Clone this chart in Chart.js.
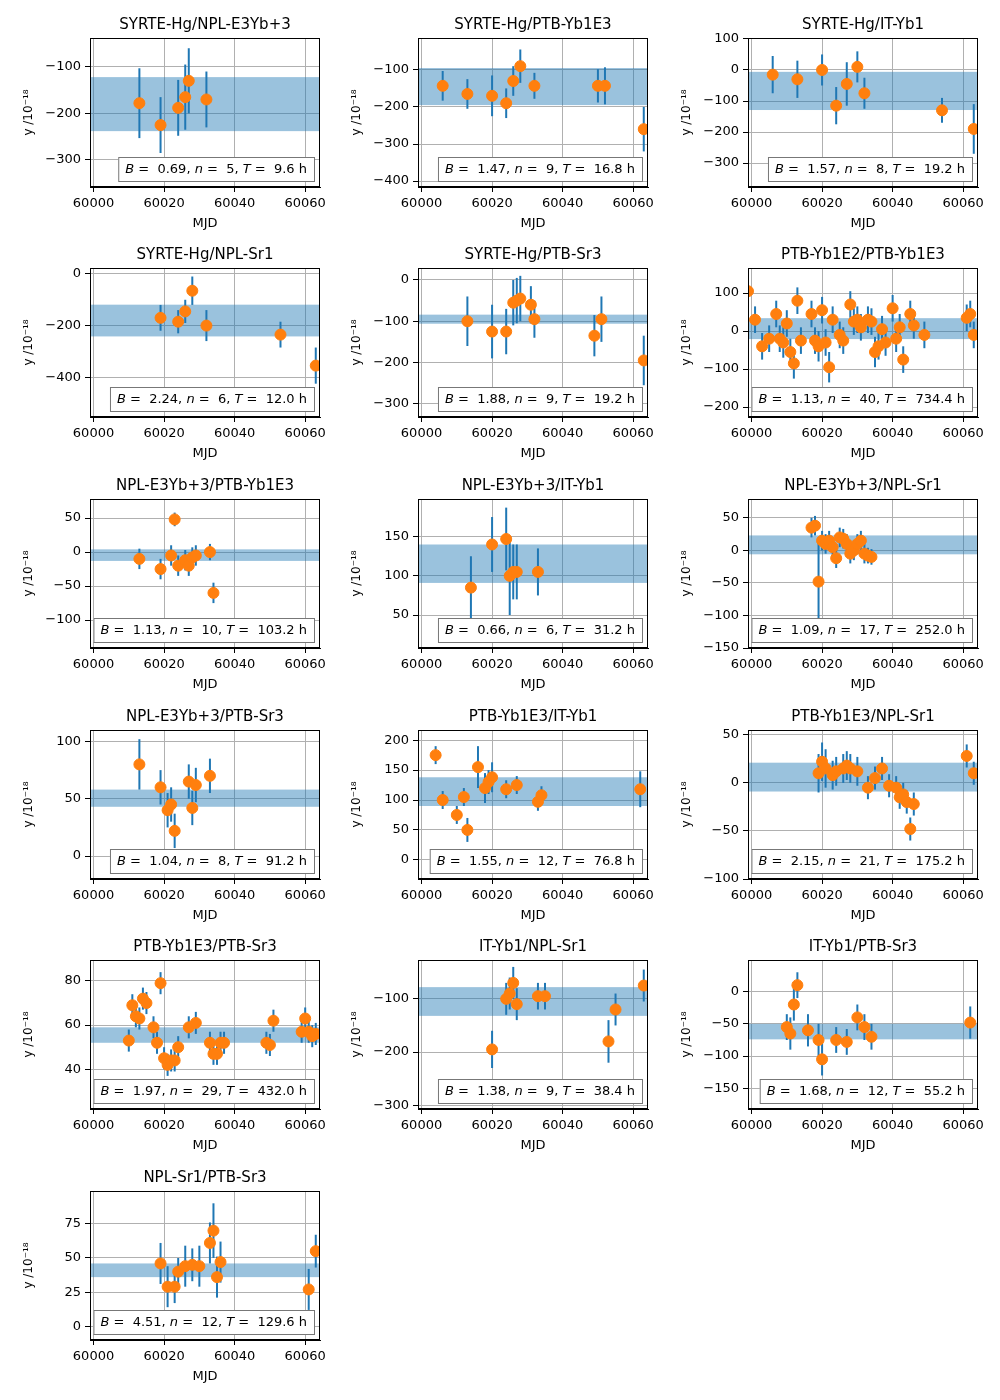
<!DOCTYPE html>
<html><head><meta charset="utf-8">
<script src="https://cdn.jsdelivr.net/npm/chart.js@4.4.0/dist/chart.umd.min.js"></script>
<style>body{margin:0;background:#fff;width:1000px;height:1400px;position:relative}canvas{position:absolute}</style>
</head><body>
<script>
const titles=["SYRTE-Hg/NPL-E3Yb+3","SYRTE-Hg/PTB-Yb1E3","SYRTE-Hg/IT-Yb1","SYRTE-Hg/NPL-Sr1","SYRTE-Hg/PTB-Sr3","PTB-Yb1E2/PTB-Yb1E3","NPL-E3Yb+3/PTB-Yb1E3","NPL-E3Yb+3/IT-Yb1","NPL-E3Yb+3/NPL-Sr1","NPL-E3Yb+3/PTB-Sr3","PTB-Yb1E3/IT-Yb1","PTB-Yb1E3/NPL-Sr1","PTB-Yb1E3/PTB-Sr3","IT-Yb1/NPL-Sr1","IT-Yb1/PTB-Sr3","NPL-Sr1/PTB-Sr3"];
const statB=["0.69","1.47","1.57","2.24","1.88","1.13","1.13","0.66","1.09","1.04","1.55","2.15","1.97","1.38","1.68","4.51"];
const statN=[5,9,8,6,9,40,10,6,17,8,12,21,29,9,12,12];
const statT=["9.6","16.8","19.2","12.0","19.2","734.4","103.2","31.2","252.0","91.2","76.8","175.2","432.0","38.4","55.2","129.6"];
const bandLo=[-238,-195,-129,-242,-106,-21,-13,91,-6,43,90,-9,52,-132,-74,36];
const bandHi=[-122,-95,-6,-119,-84,34,4,140,23,58,138,21,59,-78,-50,46];
const yMin=[-358,-416,-377,-554,-332,-226,-141,8,-150,-20,-32,-100,22,-307,-182,-10];
const yMax=[-38,-14,103,23,29,166,78,198,79,110,217,55,89.5,-27,49,99];
const yTicks=[[-300,-200,-100],[-400,-300,-200,-100],[-300,-200,-100,0,100],[-400,-200,0],[-300,-200,-100,0],[-200,-100,0,100],[-100,-50,0,50],[50,100,150],[-150,-100,-50,0,50],[0,50,100],[0,50,100,150,200],[-100,-50,0,50],[40,60,80],[-300,-200,-100],[-150,-100,-50,0],[0,25,50,75]];
const xTicks=[60000,60020,60040,60060];

const p1X=[60013,60019,60024,60026,60027,60032], p1Y=[-178,-225,-188,-165,-130,-170], p1E=[75,60,60,70,70,60];
const p2X=[60006,60013,60020,60024,60026,60028,60032,60050,60052,60063], p2Y=[-143,-165,-170,-190,-130,-90,-143,-143,-143,-260], p2E=[40,40,55,40,40,45,35,45,50,60];
const p3X=[60006,60013,60020,60024,60027,60030,60032,60054,60063], p3Y=[-15,-30,0,-115,-45,10,-75,-130,-190], p3E=[60,60,50,60,70,50,50,40,80];
const p4X=[60019,60024,60026,60028,60032,60053,60063], p4Y=[-170,-185,-145,-65,-200,-235,-355], p4E=[50,45,45,55,60,50,70];
const p5X=[60013,60020,60024,60026,60027,60028,60031,60032,60049,60051,60063], p5Y=[-100,-125,-125,-55,-50,-45,-60,-95,-135,-95,-195], p5E=[60,65,55,55,55,55,45,45,50,55,60];
const p6X=[59999,60001,60003,60005,60007,60008,60009,60010,60011,60012,60013,60014,60017,60018,60019,60020,60021,60022,60023,60025,60026,60028,60029,60030,60031,60033,60034,60035,60036,60037,60038,60040,60041,60042,60043,60045,60046,60049,60061,60062,60063];
const p6Y=[105,30,-40,-20,45,-20,-30,20,-55,-85,80,-25,45,-25,-40,55,-30,-95,30,-10,-25,70,25,30,10,30,25,-55,-40,5,-30,60,-20,10,-75,45,15,-10,35,45,-10];
const p6E=[40,35,35,35,35,35,40,35,35,40,35,35,35,35,40,35,35,40,35,35,35,35,35,35,35,35,35,40,35,35,35,35,35,35,35,35,35,35,35,35,35];
const p7X=[60013,60019,60022,60023,60024,60026,60027,60028,60029,60033,60034], p7Y=[-10,-25,-5,48,-20,-12,-20,-8,-5,0,-60], p7E=[15,15,15,10,15,15,15,15,15,12,15];
const p8X=[60014,60020,60024,60025,60026,60027,60033], p8Y=[85,140,147,100,105,105,105], p8E=[40,35,40,50,35,35,30];
const p9X=[60017,60018,60019,60020,60021,60022,60023,60024,60025,60026,60027,60028,60029,60030,60031,60032,60033,60034];
const p9Y=[35,38,-48,15,10,15,5,-12,20,18,10,-5,0,10,15,-5,-8,-10];
const p9E=[15,15,60,15,15,15,15,15,15,15,15,15,15,15,15,15,12,12];
const p10X=[60013,60019,60021,60022,60023,60027,60028,60029,60033], p10Y=[80,60,40,45,22,65,42,62,70], p10E=[22,15,15,15,15,15,15,15,15];
const p11X=[60004,60006,60010,60012,60013,60016,60018,60019,60020,60024,60027,60033,60034,60062], p11Y=[175,100,75,105,50,155,120,130,138,118,125,97,108,118], p11E=[15,15,15,15,20,35,25,20,25,15,15,15,15,30];
const p12X=[60019,60020,60021,60023,60024,60026,60027,60028,60030,60033,60035,60037,60039,60041,60042,60043,60044,60045,60046,60061,60063];
const p12Y=[10,22,15,8,12,15,18,15,12,-5,5,15,-3,-5,-15,-12,-20,-48,-22,28,10];
const p12E=[20,20,20,15,15,15,15,15,15,12,12,12,12,12,12,12,12,12,12,12,12];
const p13X=[60010,60011,60012,60013,60014,60015,60017,60018,60019,60020,60021,60022,60023,60024,60027,60029,60033,60034,60035,60036,60037,60049,60050,60051,60059,60060,60061,60062,60063];
const p13Y=[53,69,64,63,72,70,59,52,79,45,42,44,44,50,59,61,52,47,47,52,52,52,51,62,57,63,57,55,56];
const p13E=[5,5,5,5,5,5,5,5,5,5,5,5,5,5,5,5,5,5,5,5,5,5,5,5,5,5,5,5,5];
const p14X=[60020,60024,60025,60026,60027,60033,60035,60053,60055,60063], p14Y=[-195,-100,-90,-70,-110,-95,-95,-180,-120,-75], p14E=[35,30,30,30,30,25,25,40,30,30];
const p15X=[60010,60011,60012,60013,60016,60019,60020,60024,60027,60030,60032,60034,60062], p15Y=[-55,-65,-20,10,-60,-75,-105,-75,-78,-40,-55,-70,-48], p15E=[20,25,25,20,25,25,25,20,20,20,20,20,25];
const p16X=[60019,60021,60023,60024,60026,60028,60030,60033,60034,60035,60036,60061,60063], p16Y=[46,29,29,40,44,45,44,61,70,36,47,27,55], p16E=[15,15,12,10,15,12,15,15,20,15,15,15,12];

const allX=[p1X,p2X,p3X,p4X,p5X,p6X,p7X,p8X,p9X,p10X,p11X,p12X,p13X,p14X,p15X,p16X];
const allY=[p1Y,p2Y,p3Y,p4Y,p5Y,p6Y,p7Y,p8Y,p9Y,p10Y,p11Y,p12Y,p13Y,p14Y,p15Y,p16Y];
const allE=[p1E,p2E,p3E,p4E,p5E,p6E,p7E,p8E,p9E,p10E,p11E,p12E,p13E,p14E,p15E,p16E];

const colLeft=[90,418,748], rowTop=[38,268,499,730,960,1191], PW=230, PH=149;
const FONT="DejaVu Sans";
Chart.defaults.font.family=FONT; Chart.defaults.color='#000';

const deco={id:'deco',
 beforeDatasetsDraw(c,a,o){const ctx=c.ctx,ca=c.chartArea,ys=c.scales.y,xs=c.scales.x,i=o.idx;
  ctx.save();ctx.beginPath();ctx.rect(ca.left,ca.top,ca.width,ca.height);ctx.clip();
  ctx.fillStyle='rgba(31,119,180,0.45)';
  const t=ys.getPixelForValue(bandHi[i]),b=ys.getPixelForValue(bandLo[i]);
  ctx.fillRect(ca.left,t,ca.width,b-t);
  ctx.strokeStyle='#1f77b4';ctx.lineWidth=2;
  allX[i].forEach((x,k)=>{const px=xs.getPixelForValue(x);ctx.beginPath();
   ctx.moveTo(px,ys.getPixelForValue(allY[i][k]-allE[i][k]));ctx.lineTo(px,ys.getPixelForValue(allY[i][k]+allE[i][k]));ctx.stroke();});
  ctx.restore();},
 afterDraw(c,a,o){const ctx=c.ctx,ca=c.chartArea,i=o.idx;ctx.save();
  ctx.fillStyle='#000';ctx.font='15px '+FONT;ctx.textAlign='center';ctx.textBaseline='bottom';
  ctx.fillText(titles[i],(ca.left+ca.right)/2,ca.top-5);
  const parts=[['B','i'],[' =  '+statB[i]+', ','n'],['n','i'],[' =  '+statN[i]+', ','n'],['T','i'],[' =  '+statT[i]+' h','n']];
  let w=0;parts.forEach(p=>{ctx.font=(p[1]=='i'?'italic ':'')+'13px '+FONT;w+=ctx.measureText(p[0]).width;});
  const bx=ca.right-6-w-14,by=ca.bottom-6-24;
  ctx.fillStyle='#fff';ctx.fillRect(bx,by,w+14,24);ctx.strokeStyle='#777';ctx.lineWidth=1;ctx.strokeRect(bx+0.5,by+0.5,w+14,24);
  ctx.fillStyle='#000';ctx.textAlign='left';ctx.textBaseline='middle';let x=bx+7;
  parts.forEach(p=>{ctx.font=(p[1]=='i'?'italic ':'')+'13px '+FONT;ctx.fillText(p[0],x,by+13);x+=ctx.measureText(p[0]).width;});
  ctx.strokeStyle='#000';ctx.lineWidth=1;ctx.strokeRect(ca.left+0.5,ca.top+0.5,ca.width-1,ca.height-1);
  ctx.restore();}};

for(let i=0;i<16;i++){
 const r=Math.floor(i/3),c=i%3;
 const cv=document.createElement('canvas');
 cv.style.left=(colLeft[c]-72)+'px';cv.style.top=(rowTop[r]-30)+'px';
 cv.style.width='314px';cv.style.height='227px';document.body.appendChild(cv);
 new Chart(cv,{type:'scatter',
  data:{datasets:[{data:allX[i].map((x,k)=>({x,y:allY[i][k]})),backgroundColor:'#ff7f0e',borderColor:'#ff7f0e',pointRadius:5.5,pointHoverRadius:5.5}]},
  options:{responsive:false,animation:false,devicePixelRatio:1,
   layout:{padding:{top:30,right:12,left:0,bottom:0}},
   plugins:{legend:{display:false},tooltip:{enabled:false},deco:{idx:i}},
   scales:{
    x:{type:'linear',min:59999,max:60064.2,afterBuildTicks:s=>{s.ticks=xTicks.map(v=>({value:v}));},
      afterFit:s=>{s.height=48;},
      ticks:{font:{size:13},color:'#000',callback:v=>String(v),maxRotation:0,padding:4},
      grid:{color:'#b0b0b0',tickColor:'#000',tickLength:5},border:{color:'#000'},
      title:{display:true,text:'MJD',font:{size:13},padding:{top:0}}},
    y:{min:yMin[i],max:yMax[i],afterBuildTicks:s=>{s.ticks=yTicks[i].map(v=>({value:v}));},
      afterFit:s=>{s.width=72;},
      ticks:{font:{size:13},color:'#000',callback:v=>String(v).replace('-','\u2212'),padding:4},
      grid:{color:'#b0b0b0',tickColor:'#000',tickLength:5},border:{color:'#000'},
      title:{display:true,text:'y /10\u207B\u00B9\u2078',font:{size:12},padding:{bottom:2}}}}},
  plugins:[deco]});
}
</script>
</body></html>
